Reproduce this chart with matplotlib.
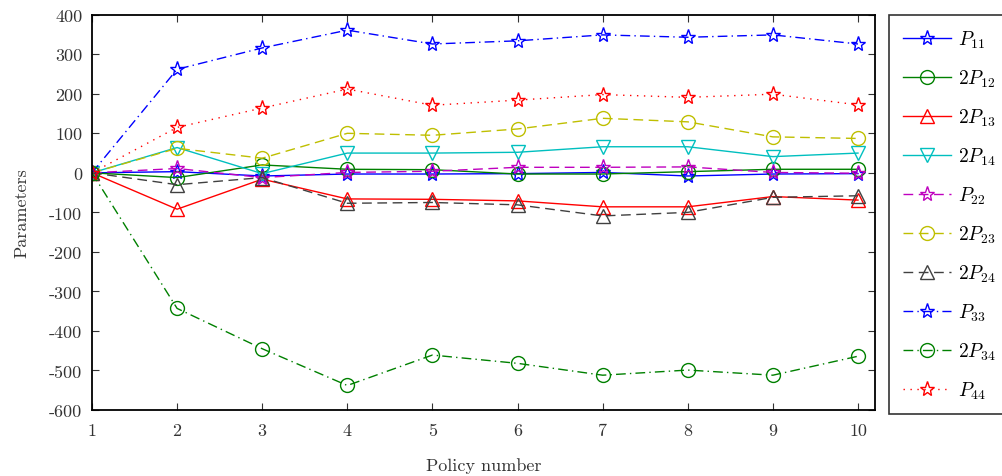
import matplotlib
matplotlib.use("Agg")
import matplotlib.pyplot as plt

policy = [1, 2, 3, 4, 5, 6, 7, 8, 9, 10]

p11 = [0, 3, -8, -3, -3, -2, 1, -8, -3, -2]
p12 = [0, -12, 20, 9, 8, -3, -3, 3, 9, 9]
p13 = [0, -92, -16, -66, -67, -71, -86, -86, -60, -69]
p14 = [0, 64, -2, 50, 50, 52, 66, 66, 41, 50]
p22 = [0, 11, -12, 1, 4, 14, 14, 15, 1, -1]
p23 = [0, 62, 37, 100, 95, 111, 138, 129, 91, 87]
p24 = [0, -30, -12, -77, -75, -81, -109, -100, -62, -58]
p33 = [0, 262, 316, 361, 326, 334, 349, 343, 349, 326]
p34 = [0, -343, -445, -538, -461, -482, -512, -499, -512, -464]
p44 = [0, 115, 164, 212, 171, 184, 198, 191, 199, 172]

labels = ["$P_{11}$", "$2P_{12}$", "$2P_{13}$", "$2P_{14}$", "$P_{22}$",
          "$2P_{23}$", "$2P_{24}$", "$P_{33}$", "$2P_{34}$", "$P_{44}$"]

yticks = [400, 300, 200, 100, 0, -100, -200, -300, -400, -500, -600]
ytick_labels = ["400", "300", "200", "100", "0", "-100", "-200", "-300",
                "-400", "-500", "-600"]

plt.rcParams["font.family"] = ["cmr10", "DejaVu Serif"]
plt.rcParams["mathtext.fontset"] = "cm"
plt.rcParams["axes.unicode_minus"] = False

fig = plt.figure(figsize=(10.03, 4.77), dpi=100)
ax = fig.add_axes([0.0917, 0.1384, 0.7807, 0.8286])

series = [p11, p12, p13, p14, p22, p23, p24, p33, p34, p44]
styles = [
    ("#0000ff", "-", "*"),
    ("#008000", "-", "o"),
    ("#ff0000", "-", "^"),
    ("#00bfbf", "-", "v"),
    ("#bf00bf", (0, (7, 4)), "*"),
    ("#bfbf00", (0, (7, 4)), "o"),
    ("#404040", (0, (7, 4)), "^"),
    ("#0000ff", (0, (7, 3, 1, 3)), "*"),
    ("#008000", (0, (7, 3, 1, 3)), "o"),
    ("#ff0000", (0, (1, 4)), "*"),
]

for vals, lab, (col, ls, mk) in zip(series, labels, styles):
    ms = 11 if mk == "*" else 10
    ax.plot(policy, vals, color=col, linestyle=ls, linewidth=1.0,
            marker=mk, markersize=ms, markerfacecolor="none",
            markeredgecolor=col, markeredgewidth=1.0, label=lab)

ax.set_xlim(1, 10.2)
ax.set_ylim(-600, 400)
ax.set_xticks(policy)
ax.set_xticklabels([str(p) for p in policy])
ax.set_yticks(yticks)
ax.set_yticklabels(ytick_labels)
ax.tick_params(direction="in", length=5, width=0.8, top=True, right=True,
               labelsize=13, colors="#333333", labelcolor="#333333")
ax.tick_params(axis="x", pad=9)
ax.tick_params(axis="y", pad=7)
for sp in ax.spines.values():
    sp.set_linewidth(1.3)
    sp.set_color("black")

ax.set_xlabel("Policy number", fontsize=13, labelpad=14, color="#333333")
ax.set_ylabel("Parameters", fontsize=13, labelpad=14, color="#333333")

leg = fig.legend(loc="upper left", bbox_to_anchor=(889 / 1003, 0.967),
                 bbox_transform=fig.transFigure, fontsize=14, frameon=True,
                 fancybox=False, edgecolor="black", labelspacing=0.91,
                 handlelength=2.5, borderpad=0.7, handletextpad=0.35,
                 borderaxespad=0)
leg.get_frame().set_linewidth(1.2)

fig.savefig("out.png", dpi=100)
